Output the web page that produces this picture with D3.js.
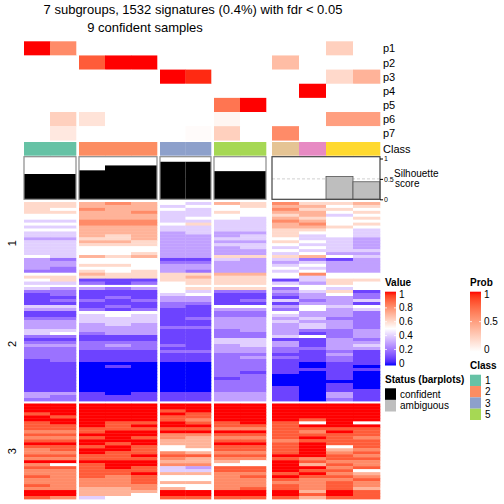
<!DOCTYPE html>
<html><head><meta charset="utf-8">
<script src="https://cdn.jsdelivr.net/npm/d3@7"></script>
<style>body{margin:0;background:#fff}svg{display:block}text{font-family:"Liberation Sans",Arial,Helvetica,sans-serif}</style>
</head><body><svg id="c" width="504" height="504"></svg>
<script>
// ---------------- data ----------------
const titleLines = ["7 subgroups, 1532 signatures (0.4%) with fdr < 0.05", "9 confident samples"];
const sampleSlice = ["1","1","2","2","2","3","3","5","5","amb","amb","amb","amb"];
const sampleClass = [1,1,2,2,2,3,3,5,5,7,4,6,6];
const probNames = ["p1","p2","p3","p4","p5","p6","p7"];
const p1 = [1.00,0.60,0,0,0,0,0,0,0,0,0,0.25,0];
const p2 = [0,0,0.80,1.00,1.00,0,0,0,0,0.35,0,0,0];
const p3 = [0,0,0,0,0,1.00,0.95,0,0,0,0,0.20,0.40];
const p4 = [0,0,0,0,0,0,0,0,0,0,1.00,0,0];
const p5 = [0,0,0,0,0,0,0,0.70,1.00,0,0,0,0];
const p6 = [0,0.25,0.15,0,0,0,0,0.05,0,0,0,0.50,0.50];
const p7 = [0,0.12,0,0,0,0,0.02,0.25,0,0.60,0,0,0];
const silhouette = [0.62,0.62,0.71,0.83,0.83,0.92,0.92,0.69,0.69,0,0,0.56,0.43];
const confident = [1,1,1,1,1,1,1,1,1,0,0,0,0];
const rowGroups = ["1","2","3"];
// each string: 13 samples, digit d -> d/10, X -> 1
const group1Rows = ["6678754768667","6677745567756","6587754558665","6677844657756","5577744556745","5577745547656","4488844448755","5588856447856","4477744447765","5577744446654","4477734336554","4476733346454","3366733445443","4477633336543","4466633445443","4455533344543","4455533335444","4455633334533","5476733666754","3255511434213","3355522333433","3366533334533","3255533335433","2265632334533","5576666775855","6666667665455","5611166661466","4421256664365"];
const group2Rows = ["4332356662545","2211154223461","1211145112352","1112133111332","1221233124234","1111122111331","4412121553545","3321211332534","1155511225332","1145411224332","2244412333422","3344411334332","3334311333432","3333322333432","4433311233223","4523311223123","2211111224523","1111111441132","2222211443133","3323221343134","2222211332233","2211122332121","2211111221131","2211111232121","1211111221121","1100000221011","1101000221010","1100000221111","1100000211010","1100000220010","1100000120010","1100000220000","1100000220010","1100000221010","1100000221011","3310111331031","3211111331031","2211111331021"];
const group3Rows = ["XXXXXXXXXXXXX","XXXXXXXXXXXXX","XXXXX9XXXXXXX","9XXXXX9XXXXXX","X9XXX99XXXXXX","XXXXX98XXX9XX","9XX99X99X95X5","99X9XXX999XXX","9999999889999","889XXXXXX98X9","99XXX88999999","889X987889X98","99XXX77998999","XXX9X77XX9X99","999X957999X59","89XX955999X78","88X9987889X89","9999X9999XX98","8899987889899","XXXXX7775X988","859XX8855X798","999X94399XX89","889994499X995","8899X77889X87","989895589X998","8888955889889","8888977888898","9888855889898","8877875899897","XX777XXXXX7X9","XX775XXXXX9X9","9845599999799"];
const valueTicks = [0,0.2,0.4,0.6,0.8,1];
const probTicks = [0,0.5,1];
const legendClasses = [1,2,3,5];

// ---------------- layout / style ----------------
const sliceNames = ["1","2","3","5","amb"];
const sliceX = {"1":[24,76],"2":[79,157],"3":[160,211],"5":[214,266],"amb":[272,380]};
const groupY = [[202,284.5],[287,401],[403.5,499]];
const classColors = {1:"#66C2A5",2:"#FC8D62",3:"#8DA0CB",4:"#E78AC3",5:"#A6D854",6:"#FFD92F",7:"#E5C494"};
const FONT = '"Liberation Sans",Arial,Helvetica,sans-serif';

const svg = d3.select("#c");
const defs = svg.append("defs");
const valueColor = d3.scaleLinear().domain([0,0.5,1]).range(["#0000ff","#ffffff","#ff0000"]).interpolate(d3.interpolateLab);
const probColor = d3.scaleLinear().domain([0,1]).range(["#ffffff","#ff0000"]).interpolate(d3.interpolateLab);
const decode = c => c === "X" ? 1 : (+c)/10;

// column scales per slice
const colScale = {};
sliceNames.forEach(s => {
  const idx = d3.range(sampleSlice.length).filter(i => sampleSlice[i] === s);
  colScale[s] = d3.scaleBand().domain(idx).range(sliceX[s]).paddingInner(0).paddingOuter(0);
});
const cx = i => colScale[sampleSlice[i]](i);
const cw = i => colScale[sampleSlice[i]].bandwidth();

// titles
svg.append("text").attr("x",193).attr("y",13.5).attr("text-anchor","middle").attr("font-size",13).text(titleLines[0]);
svg.append("text").attr("x",145).attr("y",32).attr("text-anchor","middle").attr("font-size",13).text(titleLines[1]);

// probability annotation rows
const probData = [p1,p2,p3,p4,p5,p6,p7];
const pY = d3.scaleBand().domain(probNames).range([41.3,140.3]);
probNames.forEach((name,k) => {
  const g = svg.append("g");
  g.selectAll("rect").data(probData[k]).join("rect")
    .attr("x",(d,i)=>cx(i)).attr("width",(d,i)=>cw(i)+0.3)
    .attr("y",pY(name)).attr("height",pY.bandwidth()+0.3)
    .attr("fill",d=>probColor(d));
  svg.append("text").attr("x",383).attr("y",pY(name)+pY.bandwidth()/2+4).attr("font-size",11).text(name);
});
// class row
svg.append("g").selectAll("rect").data(sampleClass).join("rect")
  .attr("x",(d,i)=>cx(i)).attr("width",(d,i)=>cw(i)+0.3)
  .attr("y",142).attr("height",13.7).attr("fill",d=>classColors[d]);
svg.append("text").attr("x",383).attr("y",153).attr("font-size",11).text("Class");

// silhouette barplot
const sy = d3.scaleLinear().domain([0,1]).range([199.3,158.5]);
sliceNames.forEach(s => {
  const [x0,x1] = sliceX[s];
  svg.append("line").attr("x1",x0).attr("x2",x1).attr("y1",sy(0.5)).attr("y2",sy(0.5))
    .attr("stroke","#d0d0d0").attr("stroke-width",1).attr("stroke-dasharray","3,2");
});
svg.append("g").selectAll("rect").data(silhouette).join("rect")
  .attr("x",(d,i)=>cx(i)).attr("width",(d,i)=>cw(i))
  .attr("y",d=>sy(d)).attr("height",d=>sy(0)-sy(d))
  .attr("fill",(d,i)=>confident[i]?"#000":"#bebebe")
  .attr("stroke",(d,i)=>confident[i]?"none":"#555").attr("stroke-width",0.8);
sliceNames.forEach(s => {
  const [x0,x1] = sliceX[s];
  svg.append("rect").attr("x",x0).attr("y",156.7).attr("width",x1-x0).attr("height",199.3-156.7)
    .attr("fill","none").attr("stroke",s==="amb"?"#444":"#8a8a8a").attr("stroke-width",1.2);
});
const sAxis = svg.append("g").attr("transform","translate(380,0)")
  .call(d3.axisRight(sy).tickValues([0,0.5,1]).tickSize(3).tickFormat(d3.format("")));
sAxis.select(".domain").remove();
sAxis.selectAll("line").attr("stroke","#000");
sAxis.selectAll("text").attr("font-size",7).attr("font-family",FONT).attr("x",4);
svg.append("text").attr("x",394).attr("y",176.5).attr("font-size",10).text("Silhouette");
svg.append("text").attr("x",395).attr("y",187).attr("font-size",10).text("score");

// heatmap body
[group1Rows,group2Rows,group3Rows].forEach((rows,gi) => {
  const ys = d3.scaleBand().domain(d3.range(rows.length)).range(groupY[gi]);
  const g = svg.append("g");
  rows.forEach((r,ri) => {
    g.selectAll(null).data(r.split("")).join("rect")
      .attr("x",(d,i)=>cx(i)).attr("width",(d,i)=>cw(i)+0.3)
      .attr("y",ys(ri)).attr("height",ys.bandwidth()+0.4)
      .attr("fill",d=>valueColor(decode(d)));
  });
  const cy = (groupY[gi][0]+groupY[gi][1])/2;
  svg.append("text").attr("transform",`translate(15.5,${cy}) rotate(-90)`)
    .attr("text-anchor","middle").attr("font-size",11).text(rowGroups[gi]);
});

// legends
function gradLegend(id, color, ticks, x, y0, y1, l0, l1, fmt){
  const grad = defs.append("linearGradient").attr("id",id).attr("x1",0).attr("x2",0).attr("y1",1).attr("y2",0);
  d3.range(0,1.0001,0.05).forEach(t => grad.append("stop").attr("offset",t).attr("stop-color",color(t)));
  svg.append("rect").attr("x",x).attr("y",y0).attr("width",11).attr("height",y1-y0).attr("fill",`url(#${id})`);
  const ls = d3.scaleLinear().domain([0,1]).range([l0,l1]);
  ticks.forEach(t => {
    if (t>0 && t<1){
      svg.append("line").attr("x1",x).attr("x2",x+2).attr("y1",ls(t)).attr("y2",ls(t)).attr("stroke","#fff").attr("stroke-width",0.8);
      svg.append("line").attr("x1",x+9).attr("x2",x+11).attr("y1",ls(t)).attr("y2",ls(t)).attr("stroke","#fff").attr("stroke-width",0.8);
    }
    svg.append("text").attr("x",x+14).attr("y",ls(t)+3.6).attr("font-size",10).text(fmt(t));
  });
}
svg.append("text").attr("x",385).attr("y",286).attr("font-size",10).attr("font-weight","bold").text("Value");
gradLegend("gv", valueColor, valueTicks, 385, 291.7, 365.5, 363.3, 294, d=>String(d));
svg.append("text").attr("x",470).attr("y",286).attr("font-size",10).attr("font-weight","bold").text("Prob");
gradLegend("gp", probColor, probTicks, 470, 291.7, 351.7, 349.3, 294, d=>String(d));

svg.append("text").attr("x",470).attr("y",369).attr("font-size",10).attr("font-weight","bold").text("Class");
const ly = d3.scaleBand().domain(legendClasses).range([374.7,420]);
legendClasses.forEach(c => {
  svg.append("rect").attr("x",470).attr("y",ly(c)).attr("width",11).attr("height",ly.bandwidth()).attr("fill",classColors[c]);
  svg.append("text").attr("x",485).attr("y",ly(c)+ly.bandwidth()/2+3.6).attr("font-size",10).text(c);
});

svg.append("text").attr("x",385).attr("y",383.3).attr("font-size",10).attr("font-weight","bold").text("Status (barplots)");
const statusNames = ["confident","ambiguous"];
const statusFill = ["#000000","#bebebe"];
const sty = d3.scaleBand().domain(statusNames).range([388.3,411.5]);
statusNames.forEach((n,k) => {
  svg.append("rect").attr("x",385).attr("y",sty(n)).attr("width",11).attr("height",sty.bandwidth()).attr("fill",statusFill[k]);
  svg.append("text").attr("x",400).attr("y",sty(n)+sty.bandwidth()/2+3.6).attr("font-size",10).text(n);
});
</script></body></html>
